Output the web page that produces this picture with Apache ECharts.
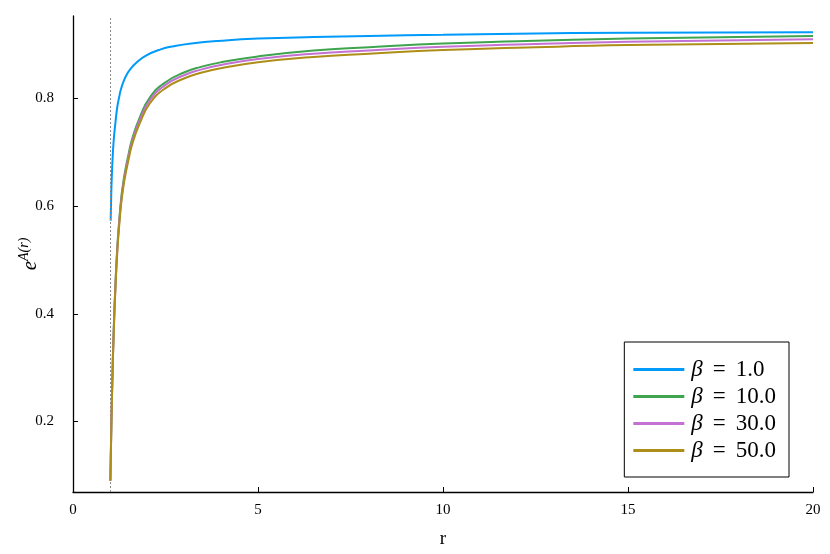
<!DOCTYPE html>
<html>
<head>
<meta charset="utf-8">
<script src="https://cdn.jsdelivr.net/npm/echarts@6/dist/echarts.min.js"></script>
<style>
  html, body { margin: 0; padding: 0; background: #fff; }
  #chart { width: 830px; height: 554px; }
</style>
</head>
<body>
<div id="chart"></div>
<script>
// values
const betaNames = ['β = 1.0', 'β = 10.0', 'β = 30.0', 'β = 50.0'];
const colors = ['#009AFA', '#3EA44E', '#C371D2', '#AC8E18'];

const rBlue = [1.018, 1.036, 1.055, 1.072, 1.1, 1.144, 1.197, 1.25, 1.288, 1.37, 1.468, 1.57, 1.69, 1.96, 2.37, 2.73, 3.2, 4, 5, 6.5, 8, 10, 12, 15, 20];
const beta1 = [0.573, 0.629, 0.665, 0.691, 0.722, 0.753, 0.784, 0.803, 0.815, 0.832, 0.846, 0.856, 0.865, 0.879, 0.891, 0.897, 0.902, 0.907, 0.911, 0.914, 0.916, 0.918, 0.920, 0.922, 0.923];

const rOther = [1.01, 1.03, 1.06, 1.1, 1.15, 1.2, 1.25, 1.3, 1.35, 1.4, 1.5, 1.6, 1.8, 2.08, 2.5, 3, 3.43, 4, 5, 6.5, 8, 10, 12, 15, 20];
const beta10 = [0.09, 0.170, 0.270, 0.370, 0.460, 0.527, 0.574, 0.613, 0.640, 0.662, 0.696, 0.725, 0.764, 0.802, 0.830, 0.848, 0.858, 0.867, 0.878, 0.889, 0.895, 0.902, 0.906, 0.911, 0.916];
const beta30 = [0.09, 0.168, 0.267, 0.367, 0.456, 0.523, 0.570, 0.608, 0.635, 0.657, 0.691, 0.720, 0.759, 0.797, 0.825, 0.843, 0.853, 0.862, 0.873, 0.883, 0.889, 0.896, 0.900, 0.905, 0.910];
const beta50 = [0.09, 0.167, 0.264, 0.363, 0.452, 0.518, 0.565, 0.603, 0.630, 0.652, 0.686, 0.715, 0.753, 0.791, 0.819, 0.837, 0.847, 0.856, 0.867, 0.877, 0.883, 0.890, 0.894, 0.899, 0.903];

const yTicks = [0.2, 0.4, 0.6, 0.8];

const font = 'Liberation Serif';
const zip = (xs, ys) => xs.map((x, i) => [x, ys[i]]);

const curves = [
  zip(rBlue, beta1),
  zip(rOther, beta10),
  zip(rOther, beta30),
  zip(rOther, beta50),
];

const chart = echarts.init(document.getElementById('chart'));

const series = curves.map((data, i) => ({
  name: betaNames[i],
  type: 'line',
  data,
  symbol: 'none',
  smooth: 0.5,
  lineStyle: { color: colors[i], width: 2 },
  itemStyle: { color: colors[i] },
  z: 3 + i,
}));

// dotted vertical line at r = 1
series[0].markLine = {
  silent: true,
  symbol: ['none', 'none'],
  label: { show: false },
  lineStyle: { type: [2, 2], color: '#888', width: 1 },
  data: [{ xAxis: 1 }],
};

const richLegend = {
  b: { fontFamily: font, fontSize: 23, fontStyle: 'italic', color: '#000', padding: [0, 0, 0, 2] },
  eq: { fontFamily: font, fontSize: 23, color: '#000', padding: [0, 10, 0, 10] },
  n: { fontFamily: font, fontSize: 23, color: '#000' },
};

const option = {
  animation: false,
  backgroundColor: '#fff',
  grid: { left: 73, right: 17, top: 16, bottom: 62, outerBoundsMode: 'none' },
  xAxis: {
    type: 'value',
    min: 0,
    max: 20,
    interval: 5,
    name: 'r',
    nameLocation: 'middle',
    nameGap: 38,
    nameTextStyle: { fontFamily: font, fontSize: 19, color: '#000' },
    axisLine: { show: true, lineStyle: { color: '#000', width: 1.3 } },
    axisTick: { show: true, inside: true, length: 5, lineStyle: { color: '#000' } },
    axisLabel: { fontFamily: font, fontSize: 15, color: '#000', margin: 11 },
    splitLine: { show: false },
  },
  yAxis: {
    type: 'value',
    min: 0.069,
    max: 0.953,
    name: '{e|e}{s|A(r)}',
    nameLocation: 'middle',
    nameGap: 32,
    nameRotate: 90,
    nameMoveOverlap: false,
    nameTextStyle: {
      color: '#000',
      rich: {
        e: { fontFamily: font, fontSize: 21, fontStyle: 'italic', color: '#000', verticalAlign: 'bottom' },
        s: { fontFamily: font, fontSize: 14, fontStyle: 'italic', color: '#000', verticalAlign: 'top', padding: [0, 0, 10, 0] },
      },
    },
    axisLine: { show: true, lineStyle: { color: '#000', width: 1.3 } },
    axisTick: { show: true, inside: true, length: 5, customValues: yTicks, lineStyle: { color: '#000' } },
    axisLabel: {
      fontFamily: font, fontSize: 15, color: '#000', margin: 19,
      customValues: yTicks,
      formatter: (v) => v.toFixed(1),
    },
    splitLine: { show: false },
  },
  legend: {
    orient: 'vertical',
    right: 41,
    top: 342,
    data: betaNames.map((name) => ({ name, icon: 'rect' })),
    itemWidth: 51,
    itemHeight: 3,
    itemGap: 4,
    padding: [16, 13, 15, 9],
    borderColor: '#000',
    borderWidth: 1,
    borderRadius: 0,
    backgroundColor: '#fff',
    formatter: (name) => '{b|β}{eq|=}{n|' + name.split('= ')[1] + '}',
    textStyle: {
      fontFamily: font,
      fontSize: 23,
      color: '#000',
      rich: richLegend,
    },
  },
  series,
};

chart.setOption(option);
</script>
</body>
</html>
